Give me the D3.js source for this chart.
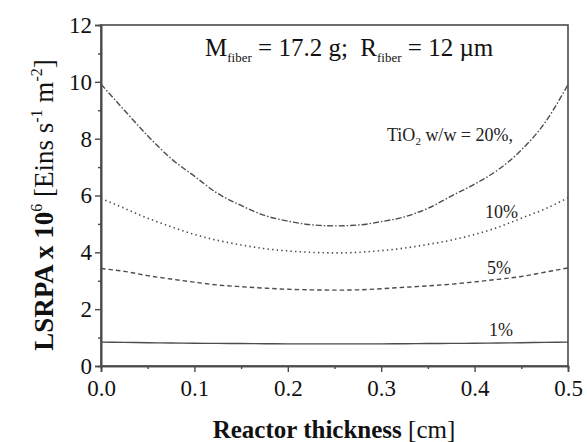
<!DOCTYPE html>
<html>
<head>
<meta charset="utf-8">
<script src="https://cdn.jsdelivr.net/npm/d3@7"></script>
<style>
  html, body { margin: 0; padding: 0; background: #fff; }
  svg, svg text { font-family: "Liberation Serif", "Times New Roman", serif; }
</style>
</head>
<body>
<svg id="chart" width="587" height="442"></svg>
<script>
// Reactor thickness grid [cm]
const thickness = [0, 0.025, 0.05, 0.075, 0.1, 0.125, 0.15, 0.175, 0.2, 0.225, 0.25,
                   0.275, 0.3, 0.325, 0.35, 0.375, 0.4, 0.425, 0.45, 0.475, 0.5];

// LSRPA x 10^6 [Eins s^-1 m^-2] for each TiO2 loading
const lsrpa20 = [9.92, 9.0, 8.1, 7.3, 6.68, 6.07, 5.65, 5.3, 5.1, 4.97, 4.93,
                 4.96, 5.08, 5.25, 5.55, 5.98, 6.4, 6.9, 7.6, 8.55, 9.9];
const lsrpa10 = [5.9, 5.55, 5.2, 4.9, 4.63, 4.42, 4.26, 4.13, 4.05, 4.0, 3.98,
                 4.0, 4.06, 4.15, 4.28, 4.43, 4.63, 4.88, 5.2, 5.52, 5.92];
const lsrpa5  = [3.43, 3.33, 3.18, 3.06, 2.95, 2.85, 2.79, 2.74, 2.7, 2.68, 2.67,
                 2.68, 2.72, 2.77, 2.82, 2.88, 2.96, 3.05, 3.15, 3.3, 3.45];
const lsrpa1  = [0.84, 0.83, 0.82, 0.81, 0.8, 0.795, 0.79, 0.785, 0.78, 0.78, 0.78,
                 0.78, 0.78, 0.785, 0.79, 0.795, 0.8, 0.81, 0.82, 0.83, 0.84];

const seriesLabels = ["20%", "10%", "5%", "1%"];

// Axis ticks
const xMajor = [0, 0.1, 0.2, 0.3, 0.4, 0.5];
const xMinor = [0.05, 0.15, 0.25, 0.35, 0.45];
const yMajor = [0, 2, 4, 6, 8, 10, 12];
const yMinor = [1, 3, 5, 7, 9, 11];

const SERIF = "'Liberation Serif', 'Times New Roman', serif";
const svg = d3.select("#chart").attr("font-family", SERIF);
const m = { left: 101, right: 568, top: 25, bottom: 366 };
const ink = "#4a4a4a";

const x = d3.scaleLinear().domain([0, 0.5]).range([m.left, m.right]);
const y = d3.scaleLinear().domain([0, 12]).range([m.bottom, m.top]);

// frame
svg.append("rect")
  .attr("x", m.left).attr("y", m.top)
  .attr("width", m.right - m.left).attr("height", m.bottom - m.top)
  .attr("fill", "none").attr("stroke", ink).attr("stroke-width", 1.6);

// axes
const styleAxis = g => {
  g.attr("font-family", SERIF).attr("font-size", 23);
  g.select(".domain").attr("stroke", ink).attr("stroke-width", 1.6);
  g.selectAll(".tick line").attr("stroke", ink).attr("stroke-width", 1.4);
  g.selectAll(".tick text").attr("fill", "#111");
};

svg.append("g").attr("transform", `translate(0,${m.bottom})`)
  .call(d3.axisBottom(x).tickValues(xMinor).tickSize(3).tickFormat(""))
  .call(styleAxis);
svg.append("g").attr("transform", `translate(0,${m.bottom})`)
  .call(d3.axisBottom(x).tickValues(xMajor).tickSize(6).tickPadding(8).tickFormat(d3.format(".1f")))
  .call(styleAxis);

svg.append("g").attr("transform", `translate(${m.left},0)`)
  .call(d3.axisLeft(y).tickValues(yMinor).tickSize(3).tickFormat(""))
  .call(styleAxis);
svg.append("g").attr("transform", `translate(${m.left},0)`)
  .call(d3.axisLeft(y).tickValues(yMajor).tickSize(6).tickPadding(3).tickFormat(d3.format("d")))
  .call(styleAxis);

// curves
const line = d3.line()
  .x((d, i) => x(thickness[i]))
  .y(d => y(d))
  .curve(d3.curveMonotoneX);

const curves = [
  { values: lsrpa20, dash: "6,2,1.5,2", width: 1.4 },
  { values: lsrpa10, dash: "1.4,3.2", width: 1.6 },
  { values: lsrpa5,  dash: "4.5,3", width: 1.4 },
  { values: lsrpa1,  dash: null, width: 1.4 }
];

curves.forEach(c => {
  svg.append("path")
    .datum(c.values)
    .attr("d", line)
    .attr("fill", "none")
    .attr("stroke", "#4d4d4d")
    .attr("stroke-width", c.width)
    .attr("stroke-dasharray", c.dash);
});

// curve labels
const lbl = svg.append("g").attr("fill", "#222").attr("font-size", 18);
const t20 = lbl.append("text").attr("x", 387).attr("y", 141);
t20.append("tspan").text("TiO");
t20.append("tspan").attr("dy", 4).attr("font-size", 11).text("2");
t20.append("tspan").attr("dy", -4).text(" w/w = " + seriesLabels[0] + ",");
lbl.append("text").attr("x", 485).attr("y", 218).text(seriesLabels[1]);
lbl.append("text").attr("x", 487).attr("y", 274).text(seriesLabels[2]);
lbl.append("text").attr("x", 489).attr("y", 336).text(seriesLabels[3]);

// fiber parameters
const params = svg.append("text").attr("x", 205).attr("y", 56)
  .attr("fill", "#111").attr("font-size", 25);
params.append("tspan").text("M");
params.append("tspan").attr("dy", 6).attr("font-size", 13).text("fiber");
params.append("tspan").attr("dy", -6).text(" = 17.2 g;\u00a0\u00a0R");
params.append("tspan").attr("dy", 6).attr("font-size", 13).text("fiber");
params.append("tspan").attr("dy", -6).text(" = 12 \u00b5m");

// x title
const xt = svg.append("text").attr("x", 334).attr("y", 438)
  .attr("text-anchor", "middle").attr("fill", "#111").attr("font-size", 25);
xt.append("tspan").attr("font-weight", "bold").text("Reactor thickness ");
xt.append("tspan").text("[cm]");

// y title
const yt = svg.append("text")
  .attr("transform", "translate(53,205) rotate(-90)")
  .attr("text-anchor", "middle").attr("fill", "#111").attr("font-size", 27);
yt.append("tspan").attr("font-weight", "bold").text("LSRPA x 10");
yt.append("tspan").attr("dy", -11).attr("font-size", 16).text("6");
yt.append("tspan").attr("dy", 11).text(" [Eins s");
yt.append("tspan").attr("dy", -11).attr("font-size", 16).text("-1");
yt.append("tspan").attr("dy", 11).text(" m");
yt.append("tspan").attr("dy", -11).attr("font-size", 16).text("-2");
yt.append("tspan").attr("dy", 11).text("]");
</script>
</body>
</html>
